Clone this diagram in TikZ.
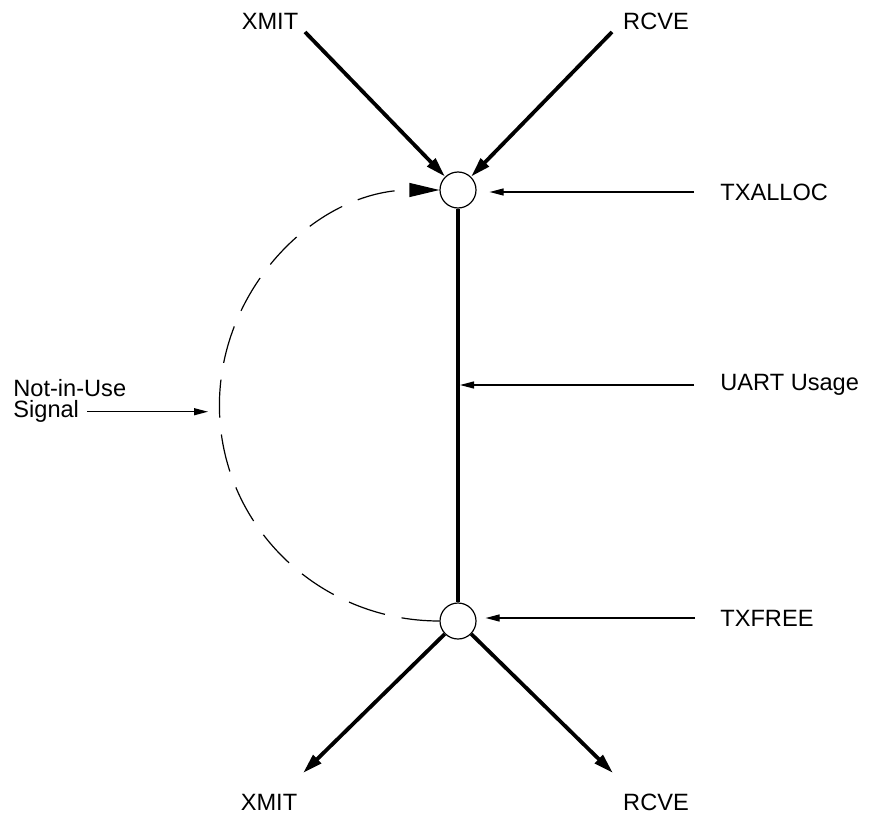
\documentclass[tikz,border=0pt]{standalone}
\usepackage{fontspec}
\setmainfont{Liberation Sans}
\usetikzlibrary{arrows.meta}

\begin{document}
\begin{tikzpicture}[x=0.5pt, y=-0.5pt, >=Triangle, every node/.style={font=\fontsize{11.8}{10.8}\selectfont, inner sep=0pt}]
\tikzstyle{junc}=[draw, circle, line width=0.6pt, minimum size=18pt]
\tikzstyle{heavy}=[line width=1.9pt, -{Triangle[length=10pt, width=5.5pt]}]
\tikzstyle{lite}=[line width=0.6pt, -{Triangle[length=7pt, width=3.5pt]}]
\tikzstyle{loopback}=[line width=0.6pt, dash pattern=on 19pt off 8.5pt, -{Triangle[length=15pt, width=7pt]}]
\useasboundingbox (0,0) rectangle (870,818);
% junctions
\node[junc] (alloc) at (458,190) {};
\node[junc] (free) at (458,621) {};
% labels
\node (xmitin) at (270,21) {XMIT};
\node (rcvein) at (656,21) {RCVE};
\node (xmitout) at (269,802) {XMIT};
\node (rcveout) at (656,802) {RCVE};
\node[anchor=west] (txalloc) at (720,192) {TXALLOC};
\node[anchor=mid west] (uart) at (720,385) {UART Usage};
\node[anchor=west] (txfree) at (720,618) {TXFREE};
\node[anchor=base west] (notinuse) at (13,396) {Not-in-Use};
\node[anchor=base west] (signal) at (13,417) {Signal};
\coordinate (xin) at (305,32);
\coordinate (rin) at (612,32);
\coordinate (xout) at (303,773);
\coordinate (rout) at (613,773);
\coordinate (arcleft) at (220,409);
% usage line
\draw[line width=1.7pt] (alloc) -- (free);
\draw[heavy] (xin) -- (alloc);
\draw[heavy] (rin) -- (alloc);
\draw[heavy] (free) -- (xout);
\draw[heavy] (free) -- (rout);
\draw[loopback] (free.west) arc[start angle=270, end angle=90, x radius=110pt, y radius=107.75pt];
% pointers
\draw[lite, shorten <=13pt, shorten >=6.5pt] (txalloc.west) -- (txalloc.west -| alloc.east);
\draw[lite, shorten <=13pt, shorten >=1pt] (uart.mid west) -- (uart.mid west -| alloc);
\draw[lite, shorten <=12.5pt, shorten >=4.5pt] (txfree.west) -- (txfree.west -| free.east);
\draw[lite, shorten <=4pt, shorten >=6pt] (signal.mid east) -- (signal.mid east -| arcleft);
\end{tikzpicture}
\end{document}
